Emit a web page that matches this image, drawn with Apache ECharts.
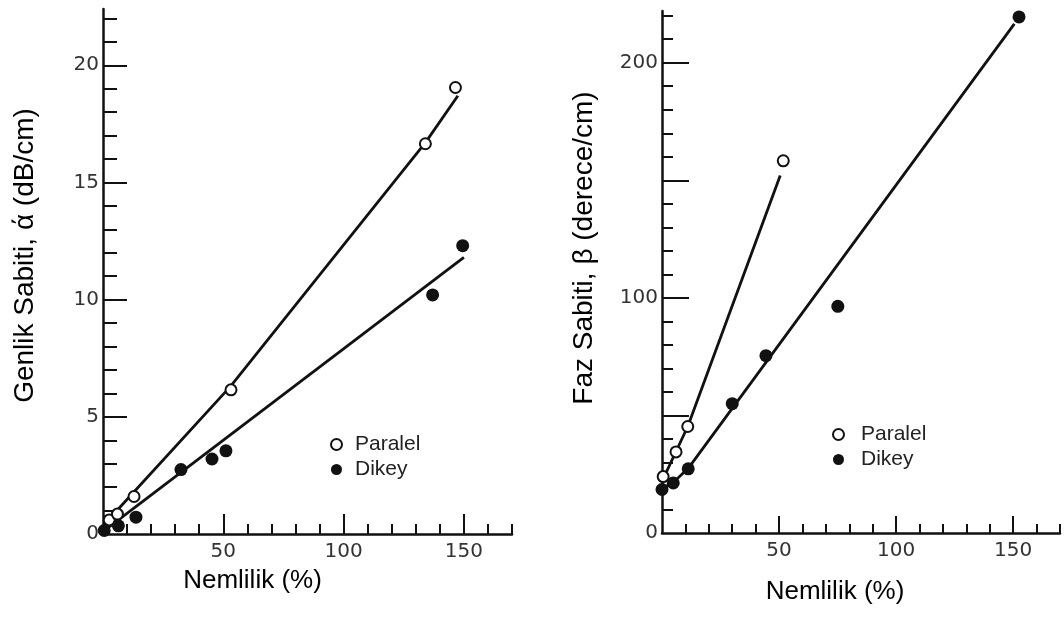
<!DOCTYPE html>
<html>
<head>
<meta charset="utf-8">
<script src="https://cdn.jsdelivr.net/npm/echarts@6/dist/echarts.min.js"></script>
<style>html,body{margin:0;padding:0;background:#fff}#c{width:1064px;height:622px}</style>
</head>
<body>
<div id="c"></div>
<script>
// ---- Left chart: Genlik Sabiti (attenuation) vs Nemlilik ----
const leftParalelX = [2.6, 6.0, 12.9, 53.2, 134, 146.5];
const leftParalelY = [0.6, 0.85, 1.6, 6.15, 16.65, 19.05];
const leftDikeyX = [0.5, 6.4, 13.7, 32.4, 45.3, 51.1, 137, 149.5];
const leftDikeyY = [0.15, 0.35, 0.72, 2.75, 3.2, 3.55, 10.2, 12.3];
const leftParalelFitX = [0, 53, 134, 147.5];
const leftParalelFitY = [0.35, 6.3, 16.7, 18.7];
const leftDikeyFitX = [0, 150];
const leftDikeyFitY = [0.1, 11.8];

// ---- Right chart: Faz Sabiti (phase) vs Nemlilik ----
const rightParalelX = [0.5, 6.0, 11.0, 51.8];
const rightParalelY = [24, 34.5, 45.3, 158.3];
const rightDikeyX = [0, 4.8, 11.2, 30, 44.4, 75.1, 152.5];
const rightDikeyY = [18.5, 21.3, 27.3, 55, 75.4, 96.4, 219.5];
const rightParalelFitX = [0.5, 11.0, 50.5];
const rightParalelFitY = [23, 45.3, 152];
const rightDikeyFitX = [0, 4.8, 11.2, 150.5];
const rightDikeyFitY = [19, 21.5, 27.5, 216.5];

// ---- Tick labels / tick marks ----
const leftXLabels = [50, 100, 150];
const leftYLabels = [0, 5, 10, 15, 20];
const rightXLabels = [50, 100, 150];
const rightYLabels = [0, 100, 200];
const leftXMinorTicks = [10,20,30,40,60,70,80,90,110,120,130,140,160,170];
const leftXMajorTicks = [50, 100, 150];
const leftYMinorTicks = [1,2,3,4,6,7,8,9,11,12,13,14,16,17,18,19,21,22];
const leftYMajorTicks = [5, 10, 15, 20];
const rightXMinorTicks = [10,20,30,40,60,70,80,90,110,120,130,140,160,170];
const rightXMajorTicks = [50, 100, 150];
const rightYMinorTicks = [10,20,30,40,60,70,80,90,110,120,130,140,160,170,180,190,210,220];
const rightYMajorTicks = [50, 100, 150, 200];

const seriesNames = ['Paralel', 'Dikey'];
const xTitle = 'Nemlilik (%)';
const leftYTitle = 'Genlik Sabiti, ά (dB/cm)';
const rightYTitle = 'Faz Sabiti, β (derece/cm)';

const zip = (xs, ys) => xs.map((x, i) => [x, ys[i]]);
const INK = '#111';
const labelFont = { fontFamily: 'DejaVu Sans', fontSize: 20, color: '#333' };
const SANS = 'Liberation Sans, Arial, sans-serif';

function axisPair(dim, gridIndex, min, max, minorTicks, majorTicks, labels, minorLen, majorLen, name, nameGap, labelMargin, nameSize, namePad) {
  const pos = dim === 'x' ? 'bottom' : 'left';
  const minorAxis = {
    type: 'value', gridIndex, position: pos, min, max,
    axisLine: { show: true, onZero: false, lineStyle: { color: INK, width: 2.5 } },
    axisTick: { show: true, inside: true, length: minorLen, customValues: minorTicks, lineStyle: { color: INK, width: 2 } },
    axisLabel: { show: false },
    splitLine: { show: false }
  };
  const majorAxis = {
    type: 'value', gridIndex, position: pos, min, max,
    axisLine: { show: false, onZero: false },
    axisTick: { show: true, inside: true, length: majorLen, customValues: majorTicks, lineStyle: { color: INK, width: 2 } },
    axisLabel: Object.assign({ show: true, customValues: labels, margin: labelMargin }, labelFont),
    splitLine: { show: false },
    name, nameLocation: 'middle', nameGap,
    nameTextStyle: { fontFamily: SANS, fontSize: nameSize, color: '#000', padding: namePad }
  };
  if (dim === 'y') majorAxis.nameRotate = 90;
  return [minorAxis, majorAxis];
}

const xAxes = [
  ...axisPair('x', 0, 0, 170, leftXMinorTicks, leftXMajorTicks, leftXLabels, 10, 20, xTitle, 34, 8, 26, [0, 110, 0, 0]),
  ...axisPair('x', 1, 0, 170, rightXMinorTicks, rightXMajorTicks, rightXLabels, 9, 17, xTitle, 46, 8, 26, [0, 52, 0, 0])
];
const yAxes = [
  ...axisPair('y', 0, 0, 22.4, leftYMinorTicks, leftYMajorTicks, leftYLabels, 14, 24, leftYTitle, 64, 4, 28, [0, 0, 0, 32]),
  ...axisPair('y', 1, 0, 222, rightYMinorTicks, rightYMajorTicks, rightYLabels, 11, 27, rightYTitle, 64, 4, 28, [0, 0, 0, 48])
];

const openStyle = { color: '#fff', borderColor: INK, borderWidth: 2, opacity: 1 };
const fillStyle = { color: INK, opacity: 1 };
function scatter(name, data, xi, yi, open) {
  return { name, type: 'scatter', xAxisIndex: xi, yAxisIndex: yi, data,
    symbol: 'circle', symbolSize: open ? 11 : 13, itemStyle: open ? openStyle : fillStyle, z: 5 };
}
function fit(data, xi, yi) {
  return { name: 'fit', type: 'line', xAxisIndex: xi, yAxisIndex: yi, data, symbol: 'none',
    lineStyle: { color: INK, width: 2.8 }, z: 3, silent: true };
}

const legendItems = [
  { name: seriesNames[0], icon: 'circle', itemStyle: { color: '#fff', borderColor: INK, borderWidth: 2 } },
  { name: seriesNames[1], icon: 'circle', itemStyle: { color: INK } }
];
function legendAt(left, top, textPad) {
  return { left, top, orient: 'vertical', data: legendItems, itemWidth: 11, itemHeight: 11, itemGap: 4,
    textStyle: { fontFamily: SANS, fontSize: 21, color: '#222', padding: [0, 0, 0, textPad] } };
}

const option = {
  animation: false,
  backgroundColor: '#fff',
  grid: [
    { left: 103, top: 9, width: 409, height: 525 },
    { left: 662, top: 11, width: 398, height: 522 }
  ],
  xAxis: xAxes,
  yAxis: yAxes,
  legend: [legendAt(325, 429, 8), legendAt(827, 419, 12)],
  series: [
    fit(zip(leftParalelFitX, leftParalelFitY), 0, 0),
    fit(zip(leftDikeyFitX, leftDikeyFitY), 0, 0),
    scatter(seriesNames[0], zip(leftParalelX, leftParalelY), 0, 0, true),
    scatter(seriesNames[1], zip(leftDikeyX, leftDikeyY), 0, 0, false),
    fit(zip(rightParalelFitX, rightParalelFitY), 2, 2),
    fit(zip(rightDikeyFitX, rightDikeyFitY), 2, 2),
    scatter(seriesNames[0], zip(rightParalelX, rightParalelY), 2, 2, true),
    scatter(seriesNames[1], zip(rightDikeyX, rightDikeyY), 2, 2, false)
  ]
};
const chart = echarts.init(document.getElementById('c'), null, { renderer: 'canvas' });
chart.setOption(option);
</script>
</body>
</html>
